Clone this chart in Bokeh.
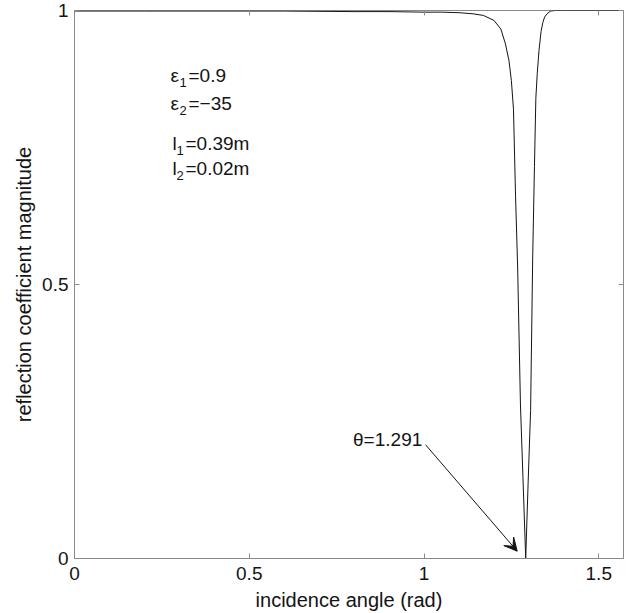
import math

from bokeh.core.properties import value
from bokeh.embed import file_html
from bokeh.models import Arrow, FixedTicker, LinearAxis, Range1d, VeeHead
from bokeh.plotting import figure
from bokeh.resources import INLINE

# |r| of the layered structure versus angle of incidence
angle = [0.0, 0.2, 0.4, 0.6, 0.8, 0.9, 1.0, 1.05, 1.1, 1.14, 1.17, 1.20,
         1.22, 1.233, 1.243, 1.25, 1.256, 1.262, 1.268, 1.276, 1.283,
         1.291,
         1.298, 1.305, 1.311, 1.316, 1.320, 1.324, 1.329, 1.335, 1.340,
         1.345, 1.352, 1.362, 1.375, 1.39, 1.42, 1.47, 1.52, 1.5708]
refl = [0.999, 0.999, 0.999, 0.999, 0.998, 0.998, 0.997, 0.997, 0.996,
        0.994, 0.991, 0.982, 0.966, 0.939, 0.909, 0.872, 0.82, 0.66, 0.53,
        0.28, 0.15,
        0.0,
        0.14, 0.27, 0.55, 0.715, 0.84, 0.885, 0.927, 0.962, 0.978,
        0.988, 0.994, 0.999, 1.0, 1.0, 1.0, 1.0, 1.0, 1.0]

theta_min = 1.291

# axis ticks and their labels
x_ticks = [0, 0.5, 1, 1.5]
x_tick_labels = ["0", "0.5", "1", "1.5"]
y_ticks = [0, 0.5, 1]
y_tick_labels = ["0", "0.5", "1"]

# layer parameters shown in the upper left
param_symbols = ["ε", "ε", "l", "l"]
param_subs = ["1", "2", "1", "2"]
param_values = ["=0.9", "=\u221235", "=0.39m", "=0.02m"]

FONT = "Liberation Sans"
AXIS_GREY = "#8a8a8a"
INK = "#141414"

p = figure(width=632, height=613, output_backend="svg", toolbar_location=None,
           x_range=Range1d(0, math.pi / 2), y_range=Range1d(0, 1),
           min_border_left=74, min_border_right=9, min_border_top=10,
           min_border_bottom=54)
p.grid.visible = False
p.outline_line_color = AXIS_GREY
p.outline_line_width = 1
p.background_fill_color = "white"
p.border_fill_color = "white"

p.line(angle, refl, line_color=INK, line_width=1)


def style_axis(ax, ticks, labels, show_labels=True, standoff=8):
    ax.ticker = FixedTicker(ticks=ticks)
    ax.major_label_overrides = {t: s for t, s in zip(ticks, labels)}
    ax.axis_line_color = AXIS_GREY
    ax.major_tick_line_color = AXIS_GREY
    ax.major_tick_in = 5
    ax.major_tick_out = 0
    ax.minor_tick_line_color = None
    ax.major_label_text_font = FONT
    ax.major_label_text_color = INK
    if show_labels:
        ax.major_label_text_font_size = "19px"
        ax.major_label_standoff = standoff
    else:
        ax.major_label_text_font_size = "0px"
        ax.major_label_standoff = 0
        ax.axis_line_color = None


style_axis(p.xaxis[0], x_ticks, x_tick_labels, standoff=8)
style_axis(p.yaxis[0], y_ticks, y_tick_labels, standoff=6)
p.xaxis[0].axis_label = "incidence angle (rad)"
p.yaxis[0].axis_label = "reflection coefficient magnitude"
for ax in (p.xaxis[0], p.yaxis[0]):
    ax.axis_label_text_font = FONT
    ax.axis_label_text_font_size = "20px"
    ax.axis_label_text_font_style = "normal"
    ax.axis_label_text_color = INK
p.xaxis[0].axis_label_standoff = 6
p.yaxis[0].axis_label_standoff = 4

top_ax = LinearAxis()
style_axis(top_ax, x_ticks, ["" for _ in x_ticks], show_labels=False)
p.add_layout(top_ax, "above")
right_ax = LinearAxis()
style_axis(right_ax, y_ticks, ["" for _ in y_ticks], show_labels=False)
p.add_layout(right_ax, "right")

# parameter block: symbol, lowered subscript, then the value
px = [0.2747, 0.2747, 0.2804, 0.2804]
py = [0.8816, 0.8306, 0.7577, 0.7122]
sub_dx = [9, 9, 4, 4]
val_dx = [18, 18, 13, 13]
common = dict(text_font=value(FONT), text_color=INK, text_baseline="alphabetic")
p.text(x=px, y=py, text=param_symbols, text_font_size="19px", **common)
p.text(x=px, y=py, text=param_subs, x_offset=sub_dx, y_offset=7,
       text_font_size="13px", **common)
p.text(x=px, y=py, text=param_values, x_offset=val_dx,
       text_font_size="19px", **common)

# arrow pointing at the resonance minimum
arrow_start = (1.0043, 0.2077)
arrow_end = (1.2667, 0.0133)
p.add_layout(Arrow(end=VeeHead(size=13, fill_color=INK, line_color=INK,
                               line_width=1),
                   x_start=arrow_start[0], y_start=arrow_start[1],
                   x_end=arrow_end[0], y_end=arrow_end[1],
                   line_color=INK, line_width=1))
p.text(x=[0.797], y=[0.218], text=[f"θ={theta_min}"], text_font_size="19px",
       **common)

open("out.html", "w").write(file_html(p, INLINE))
